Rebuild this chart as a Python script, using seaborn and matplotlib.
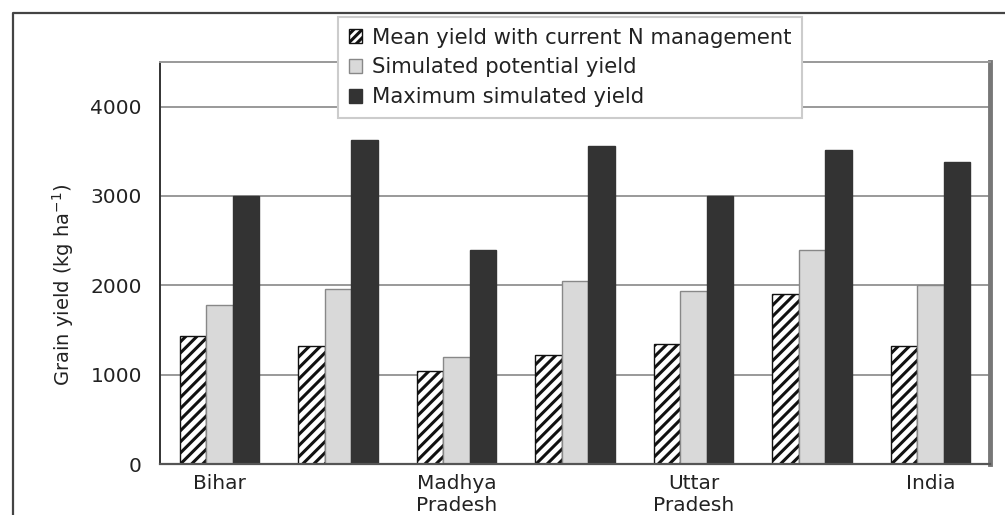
import matplotlib
matplotlib.use("Agg")
import matplotlib.pyplot as plt
from matplotlib.patches import Patch
from matplotlib.lines import Line2D
import seaborn as sns
import pandas as pd

# ---- data ----
region_keys = ["r1", "r2", "r3", "r4", "r5", "r6", "r7"]
region_labels = ["Bihar", "", "Madhya\nPradesh", "", "Uttar\nPradesh", "", "India"]
series_names = ["Mean yield with current N management",
                "Simulated potential yield",
                "Maximum simulated yield"]
mean_yield = [1430, 1320, 1040, 1220, 1340, 1900, 1320]
potential_yield = [1780, 1960, 1200, 2050, 1940, 2400, 2000]
max_yield = [3000, 3630, 2400, 3560, 3000, 3520, 3380]
y_ticks = [0, 1000, 2000, 3000, 4000]

rows = []
for s, vals in zip(series_names, [mean_yield, potential_yield, max_yield]):
    for k, v in zip(region_keys, vals):
        rows.append({"region": k, "series": s, "yield": v})
df = pd.DataFrame(rows)

sns.set_theme(style="white")
plt.rcParams["font.family"] = ["DejaVu Sans"]
plt.rcParams["hatch.linewidth"] = 2.2

fig = plt.figure(figsize=(10.05, 5.15), dpi=100)
ax = fig.add_axes([160/1005, 51/515, 830/1005, 402/515])

face = ["white", "#d9d9d9", "#333333"]
edges = ["#111111", "#888888", "#333333"]
hatches = ["///", None, None]

sns.barplot(data=df, x="region", y="yield", hue="series", order=region_keys,
            hue_order=series_names, palette=face, width=0.67, gap=0,
            ax=ax, legend=False, saturation=1)

for cont, fc, ec, h in zip(ax.containers, face, edges, hatches):
    for bar in cont:
        bar.set_facecolor(fc)
        bar.set_edgecolor(ec)
        bar.set_linewidth(1.0)
        if h:
            bar.set_hatch(h)

ax.set_ylim(0, 4500)
ax.set_xlim(-0.5, len(region_keys) - 0.5)
ax.set_yticks(y_ticks)
ax.set_yticklabels([str(t) for t in y_ticks], fontsize=14.5, color="#222222")
ax.set_xticks(range(len(region_keys)))
ax.set_xticklabels(region_labels, fontsize=14.5, color="#222222", linespacing=1.25)
ax.set_xticks([i + 0.5 for i in range(len(region_keys) - 1)], minor=True)
ax.tick_params(axis="x", which="major", length=0, pad=7)
ax.tick_params(axis="x", which="minor", length=5, width=1.2, color="#555555", direction="out")
ax.tick_params(axis="y", which="major", length=9, width=1.2, color="#333333", direction="out", pad=4)
ax.set_xlabel("")
ax.set_ylabel("Grain yield (kg ha$^{-1}$)", fontsize=14, color="#222222")
ax.yaxis.set_label_coords(-0.101, 0.445)

ax.set_axisbelow(True)
ax.yaxis.grid(True, color="#999999", linewidth=1.4)
ax.xaxis.grid(False)

for side in ["left", "bottom", "top", "right"]:
    ax.spines[side].set_visible(True)
ax.spines["left"].set_color("#333333")
ax.spines["left"].set_linewidth(1.4)
ax.spines["bottom"].set_color("#555555")
ax.spines["bottom"].set_linewidth(1.6)
ax.spines["top"].set_color("#999999")
ax.spines["top"].set_linewidth(1.4)
ax.spines["right"].set_color("#777777")
ax.spines["right"].set_linewidth(3.5)

handles = [Patch(facecolor=fc, edgecolor=ec, hatch=("////" if h else None), linewidth=1.0)
           for fc, ec, h in zip(face, edges, hatches)]
leg = ax.legend(handles=handles, labels=series_names,
                loc="upper left", bbox_to_anchor=(338/1005, 1 - 17/515),
                bbox_transform=fig.transFigure, fontsize=15.2,
                frameon=True, fancybox=False, framealpha=1,
                edgecolor="#cccccc", handlelength=0.65, handleheight=0.65,
                handletextpad=0.45, labelspacing=0.47, borderpad=0.5,
                borderaxespad=0)
leg.get_frame().set_linewidth(1.5)
for t in leg.get_texts():
    t.set_color("#222222")

# outer frame of the figure
fig.add_artist(Line2D([13/1005, 13/1005, 1.0], [0.0, 1 - 13/515, 1 - 13/515],
                      transform=fig.transFigure, color="#444444", linewidth=1.6))

fig.savefig("out.png", dpi=100)
